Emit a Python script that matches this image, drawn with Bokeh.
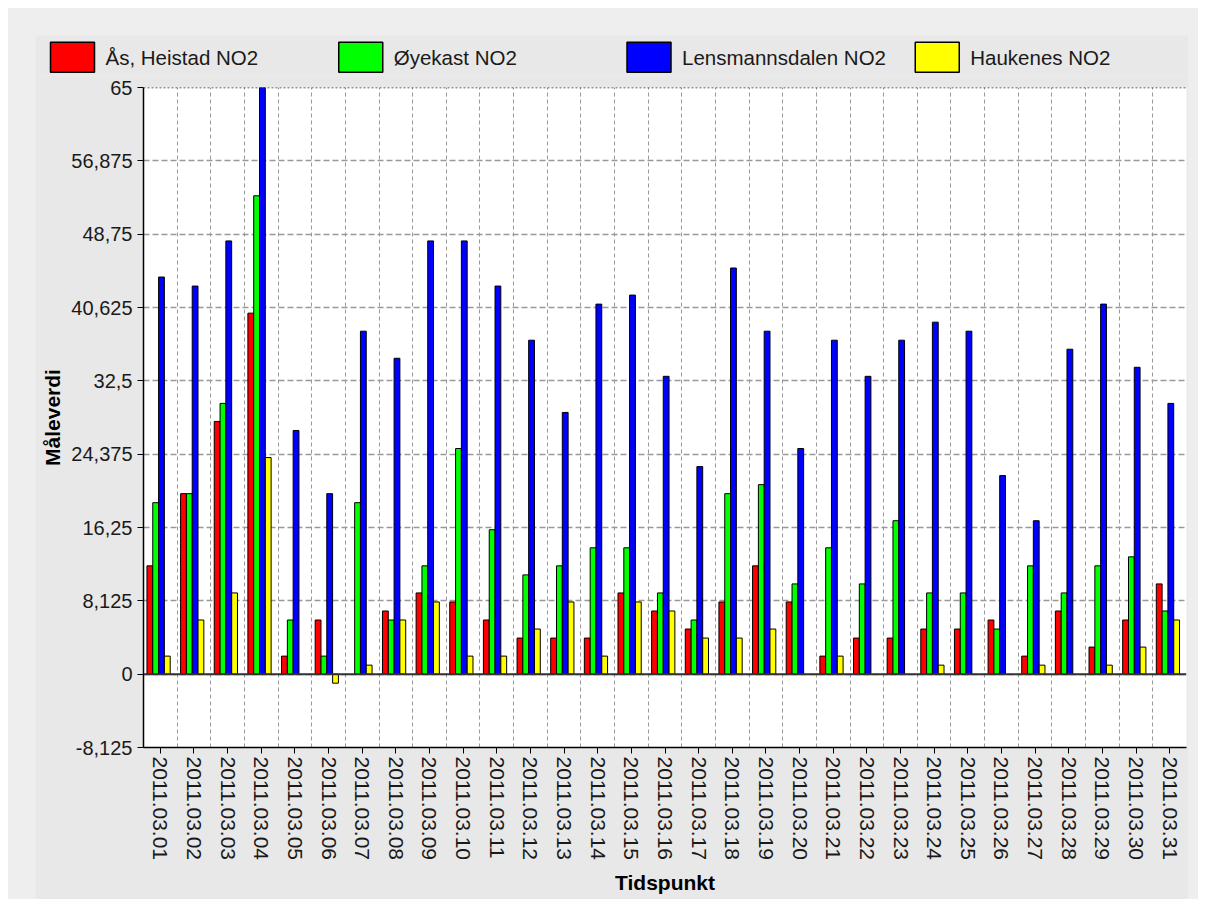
import numpy as np
from bokeh.plotting import figure
from bokeh.models import Range1d, FixedTicker, Span, Spacer
from bokeh.core.properties import value
from bokeh.layouts import column, row
from bokeh.embed import file_html
from bokeh.resources import INLINE

nan = float("nan")

dates = ["2011.03.01", "2011.03.02", "2011.03.03", "2011.03.04", "2011.03.05",
         "2011.03.06", "2011.03.07", "2011.03.08", "2011.03.09", "2011.03.10",
         "2011.03.11", "2011.03.12", "2011.03.13", "2011.03.14", "2011.03.15",
         "2011.03.16", "2011.03.17", "2011.03.18", "2011.03.19", "2011.03.20",
         "2011.03.21", "2011.03.22", "2011.03.23", "2011.03.24", "2011.03.25",
         "2011.03.26", "2011.03.27", "2011.03.28", "2011.03.29", "2011.03.30",
         "2011.03.31"]

series_names = ["Ås, Heistad NO2", "Øyekast NO2", "Lensmannsdalen NO2", "Haukenes NO2"]

as_heistad = [12, 20, 28, 40, 2, 6, nan, 7, 9, 8, 6, 4, 4, 4, 9, 7, 5, 8, 12, 8,
              2, 4, 4, 5, 5, 6, 2, 7, 3, 6, 10]
oyekast = [19, 20, 30, 53, 6, 2, 19, 6, 12, 25, 16, 11, 12, 14, 14, 9, 6, 20, 21, 10,
           14, 10, 17, 9, 9, 5, 12, 9, 12, 13, 7]
lensmannsdalen = [44, 43, 48, 65, 27, 20, 38, 35, 48, 48, 43, 37, 29, 41, 42, 33, 23, 45, 38, 25,
                  37, 33, 37, 39, 38, 22, 17, 36, 41, 34, 30]
haukenes = [2, 6, 9, 24, nan, -1, 1, 6, 8, 2, 2, 5, 8, 2, 8, 7, 4, 4, 5, nan,
            2, nan, nan, 1, nan, nan, 1, nan, 1, 3, 6]

y_ticks = [-8.125, 0, 8.125, 16.25, 24.375, 32.5, 40.625, 48.75, 56.875, 65]
y_tick_labels = ["-8,125", "0", "8,125", "16,25", "24,375", "32,5", "40,625", "48,75", "56,875", "65"]

colors = ["#ff0000", "#00ff00", "#0000ff", "#ffff00"]
series = [as_heistad, oyekast, lensmannsdalen, haukenes]

n = len(dates)
xs = np.arange(1, n + 1)
font = "Liberation Sans"
panel_bg = "#e8e8e8"
fig_w = 1153

# ---------- legend strip ----------
leg_h = 40
lg = figure(width=fig_w, height=leg_h, x_range=Range1d(0, fig_w), y_range=Range1d(0, leg_h),
            output_backend="svg", toolbar_location=None,
            x_axis_type=None, y_axis_type=None, frame_align=False,
            min_border=0, min_border_left=0, min_border_right=0, min_border_top=0, min_border_bottom=0,
            border_fill_color=panel_bg, background_fill_color=panel_bg, outline_line_color=None)
lg.xgrid.visible = False
lg.ygrid.visible = False
col_w = fig_w / 4.0
box_x = [15 + i * col_w + 22 for i in range(len(series_names))]
txt_x = [15 + i * col_w + 44 + 11 for i in range(len(series_names))]
lg.rect(x=box_x, y=[18.3] * 4, width=44, height=30, fill_color=colors,
        line_color="#000000", line_width=1.5)
lg.text(x=txt_x, y=[18.3] * 4, text=series_names, text_font=value(font),
        text_font_size="20.5px", text_color="#1a1a1a", text_baseline="middle", text_align="left")

# ---------- main chart ----------
p = figure(width=fig_w, height=824,
           x_range=Range1d(0.5, n + 0.5), y_range=Range1d(y_ticks[0], y_ticks[-1]),
           output_backend="svg", toolbar_location=None, frame_align=False,
           min_border_left=108, min_border_right=2, min_border_top=12, min_border_bottom=152,
           border_fill_color=panel_bg, background_fill_color="#ffffff",
           outline_line_color=None)

bar_w = 0.1725
offsets = [-0.311, -0.138, 0.034, 0.207]
for vals, col, off in zip(series, colors, offsets):
    p.vbar(x=xs + off, top=np.array(vals, dtype=float), bottom=0, width=bar_w,
           fill_color=col, line_color="#000000", line_width=1)

p.yaxis.ticker = FixedTicker(ticks=y_ticks)
p.yaxis.major_label_overrides = {t: l for t, l in zip(y_ticks, y_tick_labels)}
p.xaxis.ticker = FixedTicker(ticks=list(xs))
p.xaxis.major_label_overrides = {int(i): d for i, d in zip(xs, dates)}
p.xaxis.major_label_orientation = "vertical"

for ax in (p.xaxis[0], p.yaxis[0]):
    ax.axis_line_color = "#000000"
    ax.axis_line_width = 1.5
    ax.major_tick_line_color = "#000000"
    ax.major_tick_line_width = 1
    ax.major_tick_out = 6
    ax.major_tick_in = 0
    ax.minor_tick_line_color = None
    ax.major_label_text_font = font
    ax.major_label_text_font_size = "21px"
    ax.major_label_text_color = "#1a1a1a"
    ax.axis_label_text_font = font
    ax.axis_label_text_font_size = "21px"
    ax.axis_label_text_font_style = "bold"
    ax.axis_label_text_color = "#000000"

p.yaxis.major_label_text_font_size = "20px"
p.yaxis.axis_label = "Måleverdi"
p.xaxis.axis_label = "Tidspunkt"
p.yaxis.major_label_standoff = 5
p.xaxis.major_label_standoff = 3
p.yaxis.axis_label_standoff = 4
p.xaxis.axis_label_standoff = 8

p.ygrid.ticker = FixedTicker(ticks=y_ticks)
p.ygrid.grid_line_color = "#999999"
p.ygrid.grid_line_dash = "6 3"
p.ygrid.grid_line_width = 1.5
p.xgrid.ticker = FixedTicker(ticks=[float(i) + 0.5 for i in xs[:-1]])
p.xgrid.grid_line_color = "#999999"
p.xgrid.grid_line_dash = "4 3"
p.xgrid.grid_line_width = 1

p.add_layout(Span(location=0, dimension="width", line_color="#333333", line_width=2))
p.add_layout(Span(location=y_ticks[-1], dimension="width", line_color="#333333",
                  line_width=1.5, line_dash="2 2"))

panel = column(Spacer(width=1190, height=27),
               row(Spacer(width=27, height=864), column(lg, p)),
               width=1190, height=891,
               styles={"background-color": "#eeeeee"})

layout = column(Spacer(width=1198, height=8),
                row(Spacer(width=8, height=891), panel),
                width=1198, height=899)

open("out.html", "w").write(file_html(layout, INLINE))
